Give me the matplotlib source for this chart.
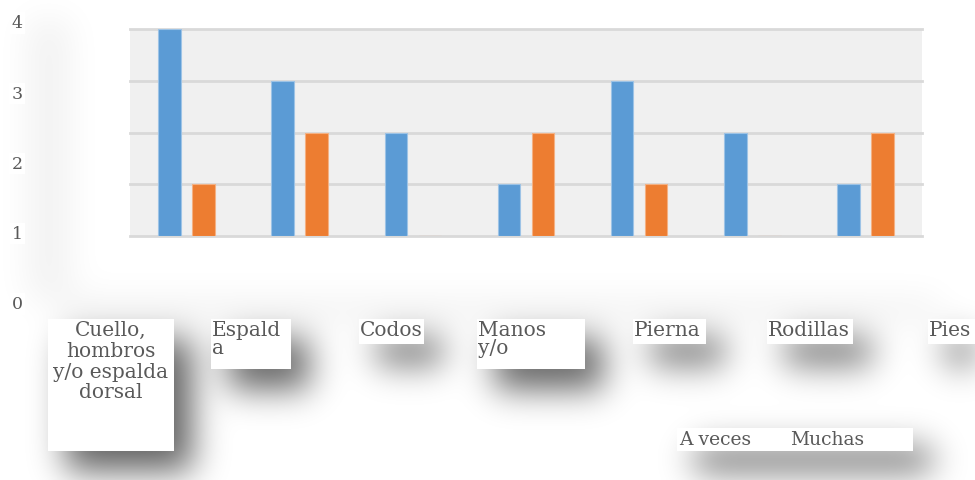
import numpy as np
import matplotlib.pyplot as plt
from matplotlib.patches import Rectangle

# Datos
categorias = ["Cuello,\nhombros\ny/o espalda\ndorsal", "Espald\na", "Codos",
              "Manos\ny/o", "Pierna", "Rodillas", "Pies"]
a_veces = [4, 3, 2, 1, 3, 2, 1]
muchas = [1, 2, 0, 2, 1, 0, 2]
series = ["A veces", "Muchas"]
y_ticks = [0, 1, 2, 3, 4]

W, H = 975, 481
AZUL = "#5b9bd5"
NARANJA = "#ed7d31"
GRIS = "#595959"
FUENTE = "DejaVu Serif"

fig = plt.figure(figsize=(W / 100, H / 100), dpi=100)


def fx(px):
    return px / W


def fy(py):
    return 1 - py / H


# Cajas blancas de las etiquetas (en pixeles: x0, y0, x1, y1)
cajas = [(48, 320, 174, 452), (211, 320, 291, 370), (359, 320, 424, 345),
         (477, 320, 585, 370), (633, 320, 706, 345), (767, 320, 853, 345),
         (928, 320, 975, 345)]
caja_leyenda = (677, 429, 913, 452)

# ============================================
# Sombras difusas (mascara desenfocada)
# ============================================
mask = np.zeros((H, W))
for (x0, y0, x1, y1) in cajas + [caja_leyenda]:
    mask[y0 + 20:y1 + 20, x0 + 18:x1 + 18] += 1.0
# halo muy suave detras de las etiquetas del eje y
mask[20:300, 28:70] += 0.09
# franja tenue bajo la fila de etiquetas
mask[300:322, 60:940] += 0.1
mask = np.clip(mask, 0, 1)

sigma = 17
t = np.arange(-3 * sigma, 3 * sigma + 1)
k = np.exp(-t ** 2 / (2 * sigma ** 2))
k /= k.sum()
mask = np.apply_along_axis(lambda r: np.convolve(r, k, mode="same"), 1, mask)
mask = np.apply_along_axis(lambda c: np.convolve(c, k, mode="same"), 0, mask)

sombra = np.zeros((H, W, 4))
sombra[..., 3] = mask * 0.62
bg = fig.add_axes([0, 0, 1, 1], zorder=-5)
bg.imshow(sombra, extent=(0, W, H, 0), interpolation="bilinear")
bg.set_xlim(0, W)
bg.set_ylim(H, 0)
bg.axis("off")

# ============================================
# Area del grafico
# ============================================
ax = fig.add_axes([fx(130), fy(237), fx(922) - fx(130), fy(30) - fy(237)])
ax.set_facecolor("#f0f0f0")
x = np.arange(len(categorias))
ancho = 0.2
ax.bar(x - 0.15, a_veces, ancho, color=AZUL, edgecolor="#9dc3e6", linewidth=0.8, zorder=3)
ax.bar(x + 0.15, muchas, ancho, color=NARANJA, edgecolor="#f4b183", linewidth=0.8, zorder=3)
ax.set_xlim(-0.5, len(categorias) - 0.5)
ax.set_ylim(0, 4)
ax.set_yticks(y_ticks)
ax.yaxis.grid(True, color="#d9d9d9", linewidth=2, zorder=1)
for gl in ax.get_ygridlines():
    gl.set_clip_on(False)
ax.set_xticks([])
ax.tick_params(axis="y", length=0, labelleft=False)
for s in ax.spines.values():
    s.set_visible(False)

# Eje de valores desplazado (etiquetas a la izquierda)
ay = fig.add_axes([fx(24), fy(303), 0.001, fy(22) - fy(303)])
ay.set_ylim(0, 4)
ay.set_yticks(y_ticks)
ay.set_yticklabels([str(v) for v in y_ticks])
ay.tick_params(axis="y", length=0, pad=1, labelsize=12.5, labelcolor=GRIS)
ay.set_xticks([])
for lab in ay.get_yticklabels():
    lab.set_fontfamily(FUENTE)
    lab.set_bbox(dict(facecolor="white", edgecolor="none", pad=1.5))
ay.patch.set_visible(False)
for s in ay.spines.values():
    s.set_visible(False)

# ============================================
# Etiquetas de categorias
# ============================================
for i, (nombre, (x0, y0, x1, y1)) in enumerate(zip(categorias, cajas)):
    fig.add_artist(Rectangle((fx(x0), fy(y1)), fx(x1) - fx(x0), fy(y0) - fy(y1),
                             transform=fig.transFigure, facecolor="white",
                             edgecolor="none", zorder=2))
    if i == 0:
        fig.text(fx((x0 + x1) / 2), fy(y0 + 1), nombre, ha="center", va="top",
                 fontsize=14.5, color=GRIS, family=FUENTE, linespacing=1.12,
                 multialignment="center")
    else:
        fig.text(fx(x0 + 1), fy(y0 + 1), nombre, ha="left", va="top",
                 fontsize=14.5, color=GRIS, family=FUENTE, linespacing=0.95)

# Leyenda (sin marcadores visibles)
x0, y0, x1, y1 = caja_leyenda
fig.add_artist(Rectangle((fx(x0), fy(y1)), fx(x1) - fx(x0), fy(y0) - fy(y1),
                         transform=fig.transFigure, facecolor="white",
                         edgecolor="none", zorder=2))
for nombre, px in zip(series, [679, 790]):
    fig.text(fx(px), fy(440), nombre, ha="left", va="center", fontsize=13.5,
             color=GRIS, family=FUENTE)

fig.savefig("out.png", dpi=100, facecolor="white")
